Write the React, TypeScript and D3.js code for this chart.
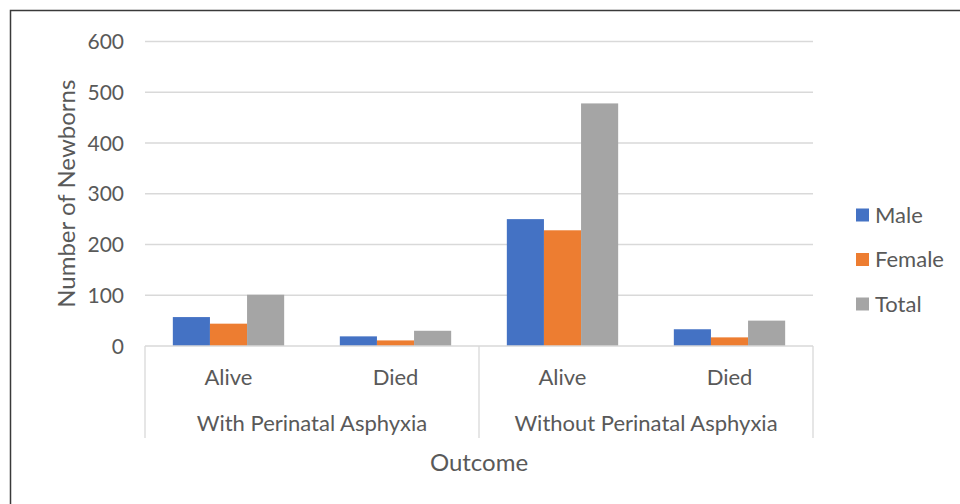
import React from "react";
import * as d3 from "d3";

const groups = ["With Perinatal Asphyxia", "Without Perinatal Asphyxia"];
const outcomes = ["Alive", "Died"];
const categories = ["With|Alive", "With|Died", "Without|Alive", "Without|Died"];
const seriesNames = ["Male", "Female", "Total"];
const maleValues = [57, 19, 250, 33];
const femaleValues = [44, 11, 228, 17];
const totalValues = [101, 30, 478, 50];
const yTicks = [0, 100, 200, 300, 400, 500, 600];
const colors = ["#4472C4", "#ED7D31", "#A5A5A5"];

const W = 960;
const H = 504;
const plotLeft = 145;
const plotRight = 813;
const plotTop = 41.5;
const plotBottom = 346;
const FONT = "Lato, 'Open Sans', sans-serif";
const TXT = "#595959";

export default function App() {
  const series = [maleValues, femaleValues, totalValues];
  const x0 = d3.scaleBand<string>().domain(categories).range([plotLeft, plotRight]).padding(0);
  const x1 = d3
    .scaleBand<string>()
    .domain(seriesNames)
    .range([0, x0.bandwidth()])
    .paddingInner(0)
    .paddingOuter(0.75);
  const y = d3.scaleLinear().domain([0, 600]).range([plotBottom, plotTop]);
  const groupScale = d3.scaleBand<string>().domain(groups).range([plotLeft, plotRight]).padding(0);
  const axisBottom = 438;

  return (
    <svg
      width={W}
      height={H}
      style={{ position: "absolute", left: 0, top: 0, background: "#fff" }}
      fontFamily={FONT}
    >
      <rect x={0} y={0} width={W} height={H} fill="#fff" />
      <rect x={10.5} y={10.5} width={W + 10} height={H + 10} fill="none" stroke="#3a3a3a" strokeWidth={1.5} />
      {yTicks.map((t) => (
        <g key={t}>
          {t > 0 && (
            <line x1={plotLeft} x2={plotRight} y1={y(t)} y2={y(t)} stroke="#D9D9D9" strokeWidth={1.3} />
          )}
          <text x={124} y={y(t)} dy="0.36em" textAnchor="end" fontSize={21} fill={TXT}>
            {t}
          </text>
        </g>
      ))}
      {categories.map((c, ci) => (
        <g key={c} transform={`translate(${x0(c)},0)`}>
          {seriesNames.map((s, si) => {
            const v = series[si][ci];
            return (
              <rect
                key={s}
                x={x1(s)}
                y={y(v)}
                width={x1.bandwidth()}
                height={y(0) - y(v)}
                fill={colors[si]}
              />
            );
          })}
        </g>
      ))}
      {/* category axis */}
      <line x1={plotLeft} x2={plotRight} y1={plotBottom} y2={plotBottom} stroke="#D9D9D9" strokeWidth={1.3} />
      {[plotLeft, (plotLeft + plotRight) / 2, plotRight].map((xx, i) => (
        <line key={i} x1={xx} x2={xx} y1={plotBottom} y2={axisBottom} stroke="#D9D9D9" strokeWidth={1.3} />
      ))}
      {categories.map((c, ci) => (
        <text
          key={c}
          x={(x0(c) as number) + x0.bandwidth() / 2}
          y={377}
          dy="0.36em"
          textAnchor="middle"
          fontSize={22}
          fill={TXT}
        >
          {outcomes[ci % 2]}
        </text>
      ))}
      {groups.map((g) => (
        <text
          key={g}
          x={(groupScale(g) as number) + groupScale.bandwidth() / 2}
          y={423}
          dy="0.36em"
          textAnchor="middle"
          fontSize={22}
          fill={TXT}
        >
          {g}
        </text>
      ))}
      <text x={479} y={462} dy="0.36em" textAnchor="middle" fontSize={24} fill={TXT}>
        Outcome
      </text>
      <text
        transform={`translate(66,${(plotTop + plotBottom) / 2}) rotate(-90)`}
        dy="0.36em"
        textAnchor="middle"
        fontSize={24}
        fill={TXT}
      >
        Number of Newborns
      </text>
      {seriesNames.map((s, i) => (
        <g key={s} transform={`translate(856,${215 + i * 44.5})`}>
          <rect x={0} y={-6.5} width={13} height={13} fill={colors[i]} />
          <text x={19} y={0} dy="0.36em" fontSize={22} fill={TXT}>
            {s}
          </text>
        </g>
      ))}
    </svg>
  );
}
